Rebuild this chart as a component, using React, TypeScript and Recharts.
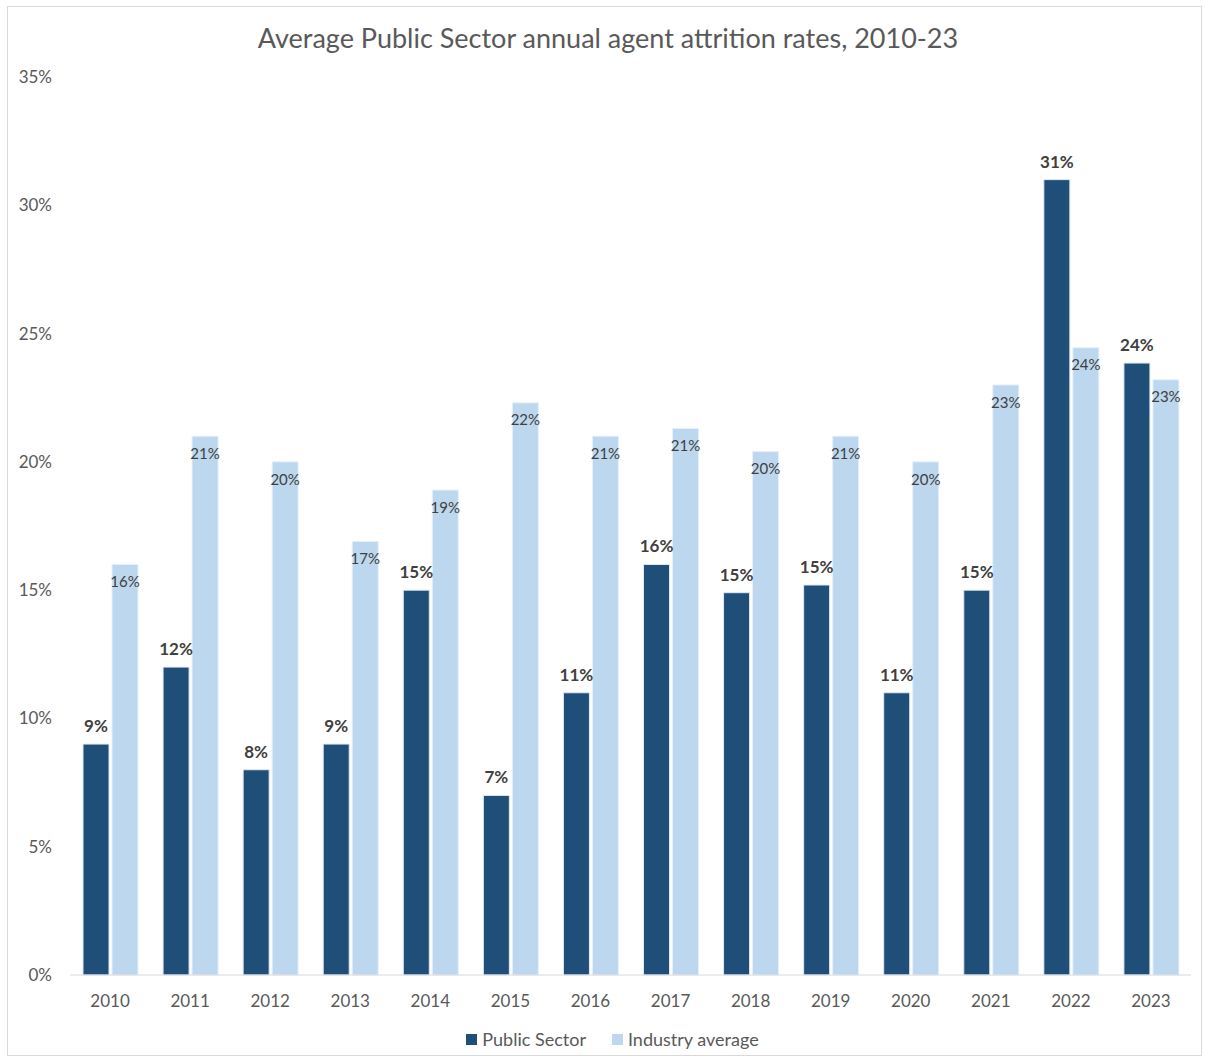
import React from "react"
import { BarChart, Bar, XAxis, YAxis, Legend, LabelList } from "recharts"

const years = ["2010", "2011", "2012", "2013", "2014", "2015", "2016", "2017", "2018", "2019", "2020", "2021", "2022", "2023"]
const publicSector = [9, 12, 8, 9, 15, 7, 11, 16, 14.9, 15.2, 11, 15, 31, 23.85]
const industryAverage = [16, 21, 20, 16.9, 18.9, 22.3, 21, 21.3, 20.4, 21, 20, 23, 24.45, 23.2]
const yTicks = [0, 5, 10, 15, 20, 25, 30, 35]
const seriesNames = ["Public Sector", "Industry average"]

const FONT = "Lato, 'Open Sans', sans-serif"
const DARK = "#1F4E79"
const LIGHT = "#BDD7EE"

const chartData = years.map((year, i) => ({
  year,
  publicSector: publicSector[i],
  industry: industryAverage[i],
}))

const pct = (v: any) => `${Math.round(Number(v))}%`

const LegendContent = () => (
  <div style={{ display: "flex", justifyContent: "center", alignItems: "center", fontFamily: FONT, paddingTop: 3, paddingLeft: 34 }}>
    {seriesNames.map((name, i) => (
      <div key={name} style={{ display: "flex", alignItems: "center", marginRight: i === 0 ? 26 : 0 }}>
        <span style={{ width: 11, height: 11, background: i === 0 ? DARK : LIGHT, marginRight: 5, display: "inline-block" }} />
        <span style={{ color: "#595959", fontSize: 18 }}>{name}</span>
      </div>
    ))}
  </div>
)

export default function App() {
  return (
    <div style={{ position: "absolute", left: 0, top: 0, width: 1205, height: 1060, background: "#fff", fontFamily: FONT }}>
      <div
        style={{
          position: "absolute",
          left: 7,
          top: 6,
          width: 1195,
          height: 1050,
          border: "1px solid #d9d9d9",
          boxSizing: "border-box",
        }}
      />
      <div
        style={{
          position: "absolute",
          left: 0,
          top: 21,
          width: 1216,
          textAlign: "center",
          fontSize: 27,
          color: "#595959",
        }}
      >
        Average Public Sector annual agent attrition rates, 2010-23
      </div>
      <div style={{ position: "absolute", left: 0, top: 0 }}>
        <BarChart
          width={1205}
          height={1060}
          data={chartData}
          margin={{ top: 77, right: 14, bottom: 4, left: 0 }}
          barSize={26}
          barGap={3}
        >
          <XAxis
            dataKey="year"
            axisLine={{ stroke: "#d9d9d9" }}
            tickLine={false}
            tickSize={0}
            tickMargin={20}
            height={50}
            tick={{ fill: "#595959", fontSize: 17, fontFamily: FONT }}
          />
          <YAxis
            type="number"
            domain={[0, 35]}
            ticks={yTicks}
            interval={0}
            axisLine={false}
            tickLine={false}
            tickSize={0}
            tickMargin={18}
            width={70}
            tickFormatter={(v) => `${v}%`}
            tick={{ fill: "#595959", fontSize: 17, fontFamily: FONT }}
          />
          <Legend verticalAlign="bottom" align="center" height={31} content={<LegendContent />} />
          <Bar dataKey="publicSector" name="Public Sector" fill={DARK} stroke="#dfe9f5" strokeWidth={1} isAnimationActive={false}>
            <LabelList
              dataKey="publicSector"
              position="top"
              offset={12}
              formatter={pct}
              style={{ fill: "#404040", fontSize: 17, fontWeight: 700, fontFamily: FONT }}
            />
          </Bar>
          <Bar dataKey="industry" name="Industry average" fill={LIGHT} stroke="#e6f0fa" strokeWidth={1} isAnimationActive={false}>
            <LabelList
              dataKey="industry"
              position="insideTop"
              offset={12}
              formatter={pct}
              style={{ fill: "#404040", fontSize: 15, fontFamily: FONT }}
            />
          </Bar>
        </BarChart>
      </div>
    </div>
  )
}
